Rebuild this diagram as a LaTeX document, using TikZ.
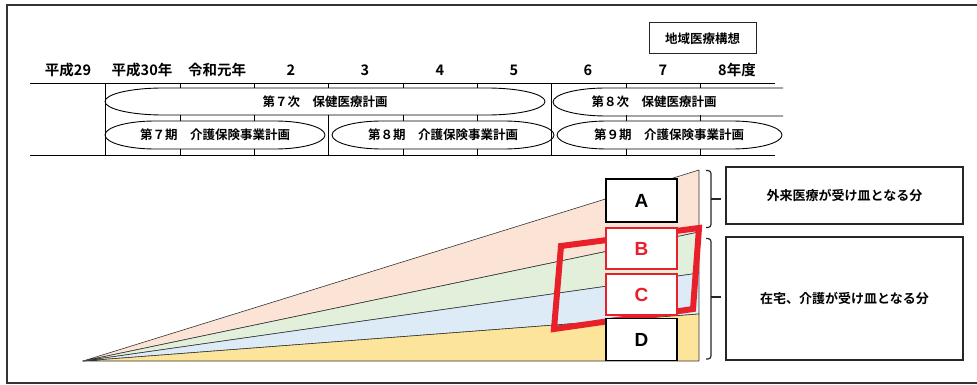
\documentclass[tikz,border=0pt]{standalone}
\usepackage{fontspec}
\newfontfamily\jp{Noto Sans CJK JP}[BoldFont={Noto Sans CJK JP Bold}]
\newfontfamily\lat{Liberation Sans}
\definecolor{pinkc}{HTML}{FBE4D6}
\definecolor{greenc}{HTML}{E2EFDA}
\definecolor{bluec}{HTML}{DDEBF7}
\definecolor{yellowc}{HTML}{FCE49A}
\definecolor{redc}{HTML}{E8202A}
\definecolor{framec}{HTML}{333333}
\newcommand\capsule[5]{%
  \draw[tbl] ({#1+#5},#3) -- ({#2-#5},#3)
    arc[start angle=270,end angle=450,x radius=#5,y radius={(#4-#3)/2}]
    -- ({#1+#5},#4)
    arc[start angle=90,end angle=270,x radius=#5,y radius={(#4-#3)/2}] -- cycle;}
\tikzset{
  tbl/.style={line width=0.9pt, draw=black},
  yearlbl/.style={font=\jp\bfseries\fontsize{14.5}{14.5}\selectfont, inner sep=0pt},
  planlbl/.style={font=\jp\bfseries\fontsize{12.5}{12.5}\selectfont, inner sep=0pt},
  fanpart/.style={draw=black!80, line width=0.6pt, line join=round},
  letterbox/.style={draw=black, line width=1.8pt, fill=white, minimum width=71pt, minimum height=42pt, inner sep=0pt, font=\lat\bfseries\fontsize{19}{19}\selectfont},
  redbox/.style={letterbox, draw=redc, text=redc},
  descbox/.style={draw=black!85, line width=1.2pt, minimum width=237pt, inner sep=0pt, font=\jp\bfseries\fontsize{13}{13}\selectfont},
  bracket/.style={draw=black!85, line width=1.2pt, rounded corners=3pt},
}
\begin{document}
\begin{tikzpicture}[x=1pt,y=-1pt]
\useasboundingbox (0,0) rectangle (977,385);
% outer frame
\draw[framec, line width=1.5pt] (982,5) -- (7,5) -- (7,383) -- (982,383);

% year header
\node[yearlbl] (y29) at (68,70) {平成29};
\node[yearlbl] (y30) at (142,70) {平成30年};
\node[yearlbl] (r1) at (217,70) {令和元年};
\node[yearlbl] (r2) at (291,70) {2};
\node[yearlbl] (r3) at (365,70) {3};
\node[yearlbl] (r4) at (440,70) {4};
\node[yearlbl] (r5) at (514,70) {5};
\node[yearlbl] (r6) at (588,70) {6};
\node[yearlbl] (r7) at (663,70) {7};
\node[yearlbl] (r8) at (737,70) {8年度};
\node[draw=black!85, line width=1pt, minimum width=107pt, minimum height=31pt, inner sep=0pt, planlbl] (chiiki) at (702.5,38.5) {地域医療構想};

% table lines
\draw[tbl] (30,83) -- (775,83);
\draw[tbl] (30,155) -- (775,155);
\draw[tbl] (105,83) -- (105,155);
\draw[tbl] (551,83) -- (551,155);
\draw[tbl] (328,115) -- (328,155);
\draw[tbl] (328,83) -- (328,88);
\foreach \x in {180,254,403,477,626,700}{
  \draw[tbl] (\x,83) -- (\x,88);
  \draw[tbl] (\x,115) -- (\x,121);
  \draw[tbl] (\x,149) -- (\x,155);
}
% plan shapes
\capsule{105}{545}{88}{115}{58}
\capsule{105}{325}{121}{149}{50}
\capsule{332}{554}{121}{149}{50}
\capsule{557}{782}{121}{149}{50}
\draw[tbl] (783,88) -- (606,88) arc[start angle=270,end angle=90,x radius=53,y radius=14] -- (783,116);

\node[planlbl] (p7) at (325,102) {第７次　保健医療計画};
\node[planlbl] (p8) at (654,102) {第８次　保健医療計画};
\node[planlbl] (k7) at (215,135) {第７期　介護保険事業計画};
\node[planlbl] (k8) at (443,135) {第８期　介護保険事業計画};
\node[planlbl] (k9) at (669,135) {第９期　介護保険事業計画};

% fan
\coordinate (apex) at (83,361);
\filldraw[fanpart, fill=pinkc] (apex) -- (699,170) -- (699,232) -- cycle;
\filldraw[fanpart, fill=greenc] (apex) -- (699,232) -- (699,273) -- cycle;
\filldraw[fanpart, fill=bluec] (apex) -- (699,273) -- (699,314) -- cycle;
\filldraw[fanpart, fill=yellowc] (apex) -- (699,314) -- (699,361) -- cycle;

% red frame
\draw[redc, line width=6pt, line join=miter] (561,246) -- (699,228) -- (693,309) -- (554,329) -- cycle;

% letter boxes
\node[letterbox, minimum height=43pt] (A) at (641.5,200.5) {A};
\node[redbox, minimum height=41pt] (B) at (641.5,248.5) {B};
\node[redbox, minimum height=41pt] (C) at (641.5,294.5) {C};
\node[letterbox, minimum height=42pt] (D) at (641.5,339.5) {D};

% brackets
\draw[bracket] (706,170.5) -- (711,170.5) -- (711,227.5) -- (706,227.5);
\draw[bracket, rounded corners=0pt] (711,199) -- (721,199);
\draw[bracket] (706,238.5) -- (711,238.5) -- (711,359) -- (706,359);
\draw[bracket, rounded corners=0pt] (711,297) -- (721,297);

% description boxes
\node[descbox, minimum height=57pt] (outpat) at (844.5,195.5) {外来医療が受け皿となる分};
\node[descbox, minimum height=123pt] (home) at (844.5,298.5) {在宅、介護が受け皿となる分};
\end{tikzpicture}
\end{document}
